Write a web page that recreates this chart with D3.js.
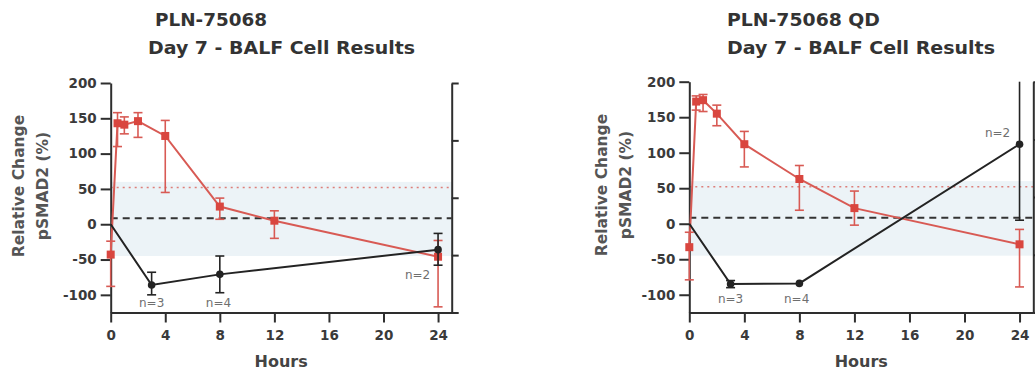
<!DOCTYPE html>
<html>
<head>
<meta charset="utf-8">
<script src="https://cdn.jsdelivr.net/npm/d3@7"></script>
<style>
  body { margin: 0; background: #fff; }
  svg { display: block; }
  text { font-family: "DejaVu Sans", sans-serif; }
</style>
</head>
<body>
<svg id="chart" width="1035" height="377"></svg>
<script>
// shared axis values
const xTicks = [0, 4, 8, 12, 16, 20, 24];
const yTicks = [-100, -50, 0, 50, 100, 150, 200];
const rightTicks = [0, 1, 2, 3, 4];
const bandRange = [-45, 60];
const dottedRef = 52;
const dashedRef = 8.5;

// red series (both panels share the sampling hours)
const redHours = [0, 0.5, 1, 2, 4, 8, 12, 24];
const redMeanA = [-43, 143, 141, 146, 125, 25, 5, -46];
const redLoA   = [-88, 110, 128, 123, 45, 7, -20, -117];
const redHiA   = [-24, 158, 152, 158, 147, 37, 19, -23];

const redMeanB = [-33, 172, 174, 155, 112, 63, 22, -29];
const redLoB   = [-79, 160, 158, 138, 80, 19, -2, -89];
const redHiB   = [-12, 180, 182, 167, 130, 82, 46, -8];

// black series
const blackHours = [0, 3, 8, 24];
const blackMeanA = [0, -86, -71, -36];
const blackLoA   = [null, -100, -97, -58];
const blackHiA   = [null, -68, -45, -13];

const blackMeanB = [0, -85, -84, 112];
const blackLoB   = [null, -90, null, 5];
const blackHiB   = [null, -80, null, 240];

// n annotations
const nTextA  = ["n=3", "n=4", "n=2"];
const nHourA  = [3, 7.9, 22.5];
const nValA   = [-111, -111, -72];
const nTextB  = ["n=3", "n=4", "n=2"];
const nHourB  = [3, 7.8, 22.4];
const nValB   = [-106, -106, 128];

const panels = [
  {
    title1: "PLN-75068", title2: "Day 7 - BALF Cell Results",
    red: { mean: redMeanA, lo: redLoA, hi: redHiA },
    black: { mean: blackMeanA, lo: blackLoA, hi: blackHiA },
    n: { text: nTextA, hour: nHourA, val: nValA },
    lay: { x0: 110.7, x1: 451.7, yTop: 83, yBot: 312.5, t1x: 155, t1w: 112, t2x: 148, t2w: 267,
           yl1: 24, yl2: 47.5, ylY: 186 }
  },
  {
    title1: "PLN-75068 QD", title2: "Day 7 - BALF Cell Results",
    red: { mean: redMeanB, lo: redLoB, hi: redHiB },
    black: { mean: blackMeanB, lo: blackLoB, hi: blackHiB },
    n: { text: nTextB, hour: nHourB, val: nValB },
    lay: { x0: 689.3, x1: 1033.3, yTop: 81.7, yBot: 312.5, t1x: 727, t1w: 153, t2x: 727, t2w: 268,
           yl1: 607, yl2: 631, ylY: 185 }
  }
];

const RED = "#d9463f";
const RED_LINE = "#d85a54";
const BLACK = "#232323";
const AXIS = "#2e2e2e";

const svg = d3.select("#chart");

function drawPanel(p) {
  const L = p.lay;
  const x = d3.scaleLinear().domain([0, 25]).range([L.x0, L.x1]);
  const y = d3.scaleLinear().domain([-125, 200]).range([L.yBot, L.yTop]);
  const yr = d3.scaleLinear().domain([0, 4]).range([L.yBot, L.yTop]);
  const g = svg.append("g");

  // titles
  g.append("text").attr("x", L.t1x).attr("y", 25.5)
    .attr("font-size", 18).attr("font-weight", "bold").attr("fill", "#333")
    .attr("textLength", L.t1w).attr("lengthAdjust", "spacingAndGlyphs")
    .text(p.title1);
  g.append("text").attr("x", L.t2x).attr("y", 54)
    .attr("font-size", 18).attr("font-weight", "bold").attr("fill", "#333")
    .attr("textLength", L.t2w).attr("lengthAdjust", "spacingAndGlyphs")
    .text(p.title2);

  // shaded band and reference lines
  g.append("rect")
    .attr("x", x(0)).attr("width", x(25) - x(0))
    .attr("y", y(bandRange[1])).attr("height", y(bandRange[0]) - y(bandRange[1]))
    .attr("fill", "#ecf3f7");

  g.append("line")
    .attr("x1", x(0)).attr("x2", x(25))
    .attr("y1", y(dottedRef)).attr("y2", y(dottedRef))
    .attr("stroke", "#dd7f7a").attr("stroke-width", 1.5)
    .attr("stroke-dasharray", "2,4");

  g.append("line")
    .attr("x1", x(0)).attr("x2", x(25))
    .attr("y1", y(dashedRef)).attr("y2", y(dashedRef))
    .attr("stroke", "#333").attr("stroke-width", 2)
    .attr("stroke-dasharray", "7,5");

  // axes
  const ax = g.append("g")
    .attr("transform", "translate(0," + L.yBot + ")")
    .call(d3.axisBottom(x).tickValues(xTicks).tickSize(10).tickSizeOuter(0).tickPadding(8));
  ax.selectAll("text").attr("font-size", 13.5).attr("font-weight", "bold").attr("fill", "#3a3a3a");

  const ay = g.append("g")
    .attr("transform", "translate(" + L.x0 + ",0)")
    .call(d3.axisLeft(y).tickValues(yTicks).tickSize(10).tickSizeOuter(0).tickPadding(4)
      .tickFormat(d => String(d)));
  ay.selectAll("text").attr("font-size", 13.5).attr("font-weight", "bold").attr("fill", "#3a3a3a");

  const ar = g.append("g")
    .attr("transform", "translate(" + L.x1 + ",0)")
    .call(d3.axisRight(yr).tickValues(rightTicks).tickSize(7).tickSizeOuter(0).tickFormat(""));

  [ax, ay, ar].forEach(a => {
    a.select(".domain").attr("stroke", AXIS).attr("stroke-width", 2);
    a.selectAll(".tick line").attr("stroke", AXIS).attr("stroke-width", 2);
  });

  // axis titles
  g.append("text")
    .attr("transform", "translate(" + L.yl1 + "," + L.ylY + ") rotate(-90)")
    .attr("text-anchor", "middle").attr("font-size", 15.5).attr("font-weight", "bold").attr("fill", "#555")
    .text("Relative Change");
  g.append("text")
    .attr("transform", "translate(" + L.yl2 + "," + L.ylY + ") rotate(-90)")
    .attr("text-anchor", "middle").attr("font-size", 15.5).attr("font-weight", "bold").attr("fill", "#555")
    .text("pSMAD2 (%)");
  g.append("text")
    .attr("x", (x(0) + x(25)) / 2).attr("y", 367)
    .attr("text-anchor", "middle").attr("font-size", 16).attr("font-weight", "bold").attr("fill", "#444")
    .text("Hours");

  const clampY = v => Math.max(-125, Math.min(200, v));

  function series(hours, s, color, lineColor, shape) {
    const pts = hours.map((h, i) => ({ h: h, m: s.mean[i], lo: s.lo[i], hi: s.hi[i] }));
    const line = d3.line().x(d => x(d.h)).y(d => y(d.m));
    g.append("path").datum(pts)
      .attr("d", line).attr("fill", "none")
      .attr("stroke", lineColor).attr("stroke-width", 2);

    const eb = g.append("g").attr("stroke", lineColor).attr("stroke-width", 1.6);
    pts.filter(d => d.lo !== null).forEach(d => {
      const lo = clampY(d.lo), hi = clampY(d.hi);
      eb.append("line").attr("x1", x(d.h)).attr("x2", x(d.h)).attr("y1", y(lo)).attr("y2", y(hi));
      if (lo === d.lo) eb.append("line").attr("x1", x(d.h) - 4.5).attr("x2", x(d.h) + 4.5).attr("y1", y(lo)).attr("y2", y(lo));
      if (hi === d.hi) eb.append("line").attr("x1", x(d.h) - 4.5).attr("x2", x(d.h) + 4.5).attr("y1", y(hi)).attr("y2", y(hi));
    });

    if (shape === "square") {
      g.append("g").selectAll("rect").data(pts).enter().append("rect")
        .attr("x", d => x(d.h) - 4).attr("y", d => y(d.m) - 4)
        .attr("width", 8).attr("height", 8).attr("fill", color);
    } else {
      g.append("g").selectAll("circle").data(pts.slice(1)).enter().append("circle")
        .attr("cx", d => x(d.h)).attr("cy", d => y(d.m))
        .attr("r", 3.8).attr("fill", color);
    }
  }

  series(redHours, p.red, RED, RED_LINE, "square");
  series(blackHours, p.black, BLACK, BLACK, "circle");

  // n labels
  g.append("g").selectAll("text").data(p.n.text).enter().append("text")
    .attr("x", (d, i) => x(p.n.hour[i])).attr("y", (d, i) => y(p.n.val[i]))
    .attr("text-anchor", "middle").attr("dominant-baseline", "central")
    .attr("font-size", 12).attr("fill", "#6f6f6f")
    .text(d => d);
}

panels.forEach(drawPanel);
</script>
</body>
</html>
